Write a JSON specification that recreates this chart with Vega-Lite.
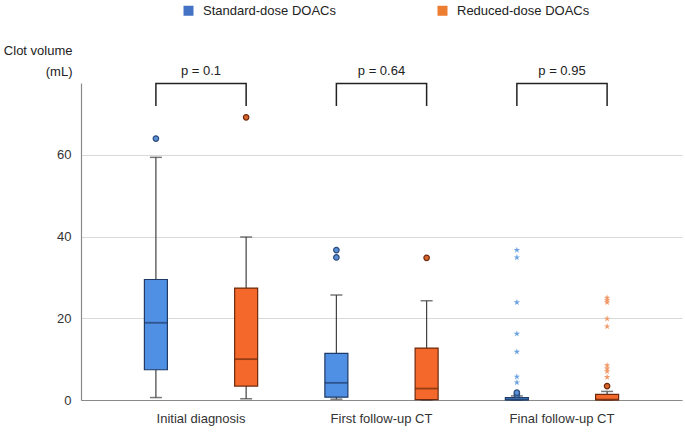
{
  "$schema": "https://vega.github.io/schema/vega-lite/v6.json",
  "autosize": "none",
  "padding": {"left": 81, "top": 83, "right": 3, "bottom": 32},
  "width": 601,
  "height": 317,
  "background": "white",
  "config": {
    "font": "Liberation Sans",
    "view": {"stroke": null},
    "axis": {"labelFont": "Liberation Sans", "titleFont": "Liberation Sans"}
  },
  "datasets": {
    "stats": [
      {"cat": "Initial diagnosis", "grp": "Standard-dose DOACs", "lo": 0.6, "q1": 7.4, "med": 18.9, "q3": 29.5, "hi": 59.4},
      {"cat": "Initial diagnosis", "grp": "Reduced-dose DOACs", "lo": 0.3, "q1": 3.4, "med": 10.0, "q3": 27.4, "hi": 39.9},
      {"cat": "First follow-up CT", "grp": "Standard-dose DOACs", "lo": 0.2, "q1": 0.7, "med": 4.2, "q3": 11.4, "hi": 25.7},
      {"cat": "First follow-up CT", "grp": "Reduced-dose DOACs", "lo": 0.0, "q1": 0.1, "med": 2.8, "q3": 12.7, "hi": 24.3},
      {"cat": "Final follow-up CT", "grp": "Standard-dose DOACs", "lo": 0.0, "q1": 0.0, "med": 0.1, "q3": 0.6, "hi": 1.0},
      {"cat": "Final follow-up CT", "grp": "Reduced-dose DOACs", "lo": 0.0, "q1": 0.0, "med": 0.1, "q3": 1.4, "hi": 2.1}
    ],
    "out": [
      {"cat": "Initial diagnosis", "grp": "Standard-dose DOACs", "v": 64.0, "kind": "circle"},
      {"cat": "Initial diagnosis", "grp": "Reduced-dose DOACs", "v": 69.2, "kind": "circle"},
      {"cat": "First follow-up CT", "grp": "Standard-dose DOACs", "v": 36.7, "kind": "circle"},
      {"cat": "First follow-up CT", "grp": "Standard-dose DOACs", "v": 34.9, "kind": "circle"},
      {"cat": "First follow-up CT", "grp": "Reduced-dose DOACs", "v": 34.8, "kind": "circle"},
      {"cat": "Final follow-up CT", "grp": "Standard-dose DOACs", "v": 1.3, "kind": "circle"},
      {"cat": "Final follow-up CT", "grp": "Standard-dose DOACs", "v": 1.8, "kind": "circle"},
      {"cat": "Final follow-up CT", "grp": "Standard-dose DOACs", "v": 36.7, "kind": "star"},
      {"cat": "Final follow-up CT", "grp": "Standard-dose DOACs", "v": 34.9, "kind": "star"},
      {"cat": "Final follow-up CT", "grp": "Standard-dose DOACs", "v": 23.9, "kind": "star"},
      {"cat": "Final follow-up CT", "grp": "Standard-dose DOACs", "v": 16.2, "kind": "star"},
      {"cat": "Final follow-up CT", "grp": "Standard-dose DOACs", "v": 11.8, "kind": "star"},
      {"cat": "Final follow-up CT", "grp": "Standard-dose DOACs", "v": 5.7, "kind": "star"},
      {"cat": "Final follow-up CT", "grp": "Standard-dose DOACs", "v": 4.3, "kind": "star"},
      {"cat": "Final follow-up CT", "grp": "Reduced-dose DOACs", "v": 3.4, "kind": "circle"},
      {"cat": "Final follow-up CT", "grp": "Reduced-dose DOACs", "v": 25.0, "kind": "star"},
      {"cat": "Final follow-up CT", "grp": "Reduced-dose DOACs", "v": 24.4, "kind": "star"},
      {"cat": "Final follow-up CT", "grp": "Reduced-dose DOACs", "v": 23.9, "kind": "star"},
      {"cat": "Final follow-up CT", "grp": "Reduced-dose DOACs", "v": 19.9, "kind": "star"},
      {"cat": "Final follow-up CT", "grp": "Reduced-dose DOACs", "v": 18.0, "kind": "star"},
      {"cat": "Final follow-up CT", "grp": "Reduced-dose DOACs", "v": 8.5, "kind": "star"},
      {"cat": "Final follow-up CT", "grp": "Reduced-dose DOACs", "v": 7.7, "kind": "star"},
      {"cat": "Final follow-up CT", "grp": "Reduced-dose DOACs", "v": 7.0, "kind": "star"},
      {"cat": "Final follow-up CT", "grp": "Reduced-dose DOACs", "v": 5.6, "kind": "star"}
    ],
    "brk": [
      {"cat": "Initial diagnosis", "grp": "Standard-dose DOACs", "y": 72.0, "o": 1},
      {"cat": "Initial diagnosis", "grp": "Standard-dose DOACs", "y": 77.5, "o": 2},
      {"cat": "Initial diagnosis", "grp": "Reduced-dose DOACs", "y": 77.5, "o": 3},
      {"cat": "Initial diagnosis", "grp": "Reduced-dose DOACs", "y": 72.0, "o": 4},
      {"cat": "First follow-up CT", "grp": "Standard-dose DOACs", "y": 72.0, "o": 1},
      {"cat": "First follow-up CT", "grp": "Standard-dose DOACs", "y": 77.5, "o": 2},
      {"cat": "First follow-up CT", "grp": "Reduced-dose DOACs", "y": 77.5, "o": 3},
      {"cat": "First follow-up CT", "grp": "Reduced-dose DOACs", "y": 72.0, "o": 4},
      {"cat": "Final follow-up CT", "grp": "Standard-dose DOACs", "y": 72.0, "o": 1},
      {"cat": "Final follow-up CT", "grp": "Standard-dose DOACs", "y": 77.5, "o": 2},
      {"cat": "Final follow-up CT", "grp": "Reduced-dose DOACs", "y": 77.5, "o": 3},
      {"cat": "Final follow-up CT", "grp": "Reduced-dose DOACs", "y": 72.0, "o": 4}
    ],
    "pv": [
      {"cat": "Initial diagnosis", "label": "p = 0.1"},
      {"cat": "First follow-up CT", "label": "p = 0.64"},
      {"cat": "Final follow-up CT", "label": "p = 0.95"}
    ]
  },
  "encoding": {
    "x": {
      "field": "cat", "type": "nominal",
      "sort": ["Initial diagnosis", "First follow-up CT", "Final follow-up CT"],
      "scale": {"paddingInner": 0, "paddingOuter": 0.165},
      "axis": {"title": null, "labelAngle": 0, "labelFontSize": 13, "labelColor": "#333333", "ticks": false, "tickSize": 0, "labelPadding": 12, "domainColor": "#8a8a8a", "domainWidth": 1.2, "labelBaseline": "top"}
    }
  },
  "layer": [
    {
      "data": {"name": "stats"},
      "mark": {"type": "rule", "color": "#404040", "strokeWidth": 1.2},
      "encoding": {
        "xOffset": {"field": "grp", "type": "nominal", "sort": ["Standard-dose DOACs", "Reduced-dose DOACs"], "scale": {"paddingInner": 0.745, "paddingOuter": 0.3725}},
        "y": {"field": "lo", "type": "quantitative", "scale": {"domain": [0, 77.6], "nice": false, "zero": true},
          "axis": {"values": [0, 20, 40, 60], "grid": true, "gridColor": "#d9d9d9", "gridWidth": 1.2, "ticks": false, "tickSize": 0, "labelPadding": 10, "labelFontSize": 13, "labelColor": "#333333", "domainColor": "#8a8a8a", "domainWidth": 1.2,
            "title": ["Clot volume", "(mL)"], "titleAngle": 0, "titleAlign": "right", "titleBaseline": "top", "titleX": -9, "titleY": -39, "titleFontWeight": "normal", "titleFontSize": 13, "titleColor": "#222222", "titleLineHeight": 21}},
        "y2": {"field": "hi"}
      }
    },
    {
      "data": {"name": "stats"},
      "mark": {"type": "tick", "color": "#404040", "size": 12, "thickness": 1.5},
      "encoding": {
        "xOffset": {"field": "grp", "type": "nominal", "sort": ["Standard-dose DOACs", "Reduced-dose DOACs"]},
        "y": {"field": "lo", "type": "quantitative"}
      }
    },
    {
      "data": {"name": "stats"},
      "mark": {"type": "tick", "color": "#404040", "size": 12, "thickness": 1.5},
      "encoding": {
        "xOffset": {"field": "grp", "type": "nominal", "sort": ["Standard-dose DOACs", "Reduced-dose DOACs"]},
        "y": {"field": "hi", "type": "quantitative"}
      }
    },
    {
      "data": {"name": "stats"},
      "mark": {"type": "bar", "strokeWidth": 1.2},
      "encoding": {
        "xOffset": {"field": "grp", "type": "nominal", "sort": ["Standard-dose DOACs", "Reduced-dose DOACs"]},
        "y": {"field": "q1", "type": "quantitative"},
        "y2": {"field": "q3"},
        "fill": {"field": "grp", "type": "nominal", "legend": null, "scale": {"domain": ["Standard-dose DOACs", "Reduced-dose DOACs"], "range": ["#4f8fe4", "#f4692b"]}},
        "stroke": {"field": "grp", "type": "nominal", "legend": null, "scale": {"domain": ["Standard-dose DOACs", "Reduced-dose DOACs"], "range": ["#1f3b66", "#6e2a0c"]}}
      }
    },
    {
      "data": {"name": "stats"},
      "mark": {"type": "tick", "size": 23, "thickness": 1.8},
      "encoding": {
        "xOffset": {"field": "grp", "type": "nominal", "sort": ["Standard-dose DOACs", "Reduced-dose DOACs"]},
        "y": {"field": "med", "type": "quantitative"},
        "color": {"field": "grp", "type": "nominal", "legend": null, "scale": {"domain": ["Standard-dose DOACs", "Reduced-dose DOACs"], "range": ["#1f3b66", "#6e2a0c"]}}
      }
    },
    {
      "data": {"name": "out"},
      "transform": [{"filter": "datum.kind === 'circle'"}],
      "mark": {"type": "point", "shape": "circle", "filled": true, "size": 30, "strokeWidth": 1.2, "opacity": 1},
      "encoding": {
        "xOffset": {"field": "grp", "type": "nominal", "sort": ["Standard-dose DOACs", "Reduced-dose DOACs"]},
        "y": {"field": "v", "type": "quantitative"},
        "fill": {"field": "grp", "type": "nominal", "legend": null, "scale": {"domain": ["Standard-dose DOACs", "Reduced-dose DOACs"], "range": ["#5a8fd6", "#d8652c"]}},
        "stroke": {"field": "grp", "type": "nominal", "legend": null, "scale": {"domain": ["Standard-dose DOACs", "Reduced-dose DOACs"], "range": ["#2a4a7a", "#6e2a0c"]}}
      }
    },
    {
      "data": {"name": "out"},
      "transform": [{"filter": "datum.kind === 'star'"}],
      "mark": {"type": "point", "shape": "M0,-1L0.225,-0.309L0.951,-0.309L0.363,0.118L0.588,0.809L0,0.382L-0.588,0.809L-0.363,0.118L-0.951,-0.309L-0.225,-0.309Z", "filled": true, "size": 45, "strokeWidth": 0, "opacity": 1},
      "encoding": {
        "xOffset": {"field": "grp", "type": "nominal", "sort": ["Standard-dose DOACs", "Reduced-dose DOACs"]},
        "y": {"field": "v", "type": "quantitative"},
        "fill": {"field": "grp", "type": "nominal", "legend": null, "scale": {"domain": ["Standard-dose DOACs", "Reduced-dose DOACs"], "range": ["#6aa3e0", "#f29a6a"]}}
      }
    },
    {
      "data": {"name": "brk"},
      "mark": {"type": "line", "color": "#222222", "strokeWidth": 1.5, "strokeJoin": "miter"},
      "encoding": {
        "xOffset": {"field": "grp", "type": "nominal", "sort": ["Standard-dose DOACs", "Reduced-dose DOACs"]},
        "y": {"field": "y", "type": "quantitative"},
        "detail": {"field": "cat"},
        "order": {"field": "o", "type": "quantitative"}
      }
    },
    {
      "data": {"name": "pv"},
      "mark": {"type": "text", "fontSize": 13, "color": "#222222", "baseline": "middle"},
      "encoding": {
        "y": {"datum": 80.6, "type": "quantitative"},
        "text": {"field": "label"}
      }
    },
    {
      "data": {"name": "stats"},
      "mark": {"type": "point", "opacity": 0, "shape": "square", "filled": true},
      "encoding": {
        "xOffset": {"field": "grp", "type": "nominal", "sort": ["Standard-dose DOACs", "Reduced-dose DOACs"]},
        "y": {"field": "med", "type": "quantitative"},
        "color": {"field": "grp", "type": "nominal", "sort": ["Standard-dose DOACs", "Reduced-dose DOACs"],
          "scale": {"domain": ["Standard-dose DOACs", "Reduced-dose DOACs"], "range": ["#4472c4", "#ed7d31"]},
          "legend": {"title": null, "orient": "none", "direction": "horizontal", "legendX": 101, "legendY": -79, "symbolType": "square", "symbolSize": 100, "symbolOpacity": 1, "symbolStrokeWidth": 0, "labelFontSize": 13, "labelColor": "#222222", "labelOffset": 8, "columnPadding": 100, "labelLimit": 300}}
      }
    }
  ],
  "resolve": {"scale": {"color": "independent", "fill": "independent", "stroke": "independent"}}
}
